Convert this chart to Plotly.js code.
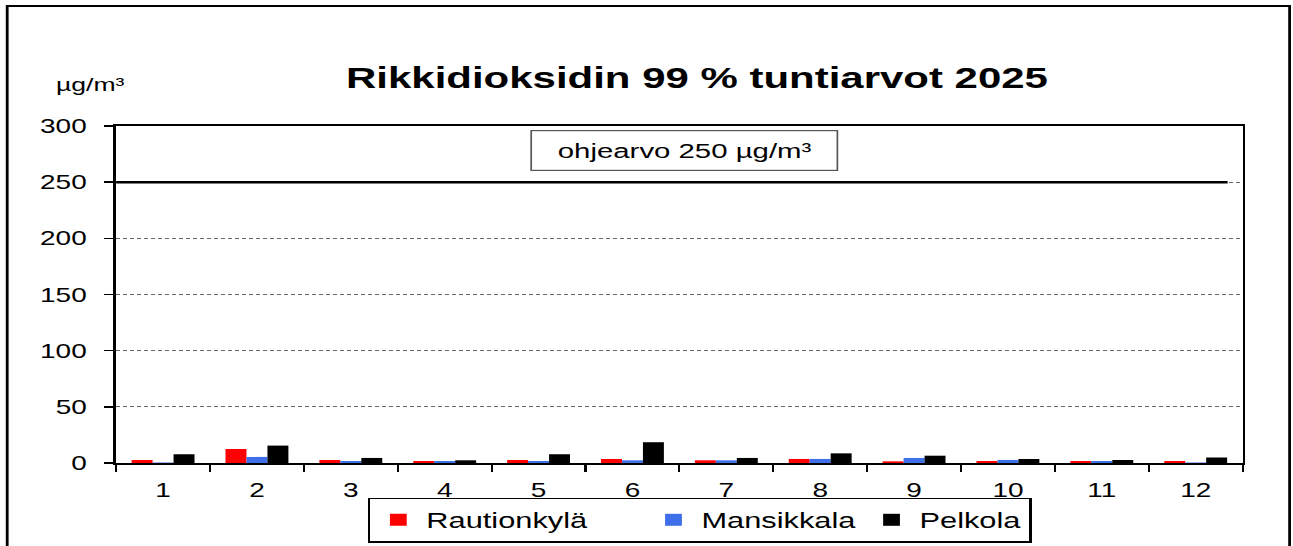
<!DOCTYPE html>
<html>
<head>
<meta charset="utf-8">
<script src="https://cdn.plot.ly/plotly-3.0.1.min.js"></script>
<style>
html,body{margin:0;padding:0;background:#fff;overflow:hidden;}
#chart{width:924px;height:546px;transform:scaleX(1.39935);transform-origin:0 0;}
</style>
</head>
<body>
<div id="chart"></div>
<script>
const months = ["1","2","3","4","5","6","7","8","9","10","11","12"];
const rautionkyla = [2.7, 12.5, 2.7, 1.8, 2.7, 3.6, 2.4, 3.6, 1.5, 1.8, 1.8, 1.8];
const mansikkala = [0.5, 5.4, 1.8, 1.8, 1.8, 2.4, 2.4, 3.6, 4.5, 2.7, 1.8, 0.5];
const pelkola = [7.8, 15.5, 4.5, 2.4, 7.8, 18.5, 4.5, 8.6, 6.5, 3.6, 2.7, 4.8];
const seriesNames = ["Rautionkylä", "Mansikkala", "Pelkola"];
const yTicks = [0, 50, 100, 150, 200, 250, 300];
const guideValue = 250;

// The reference picture is horizontally stretched; the chart is drawn
// at a narrower width and stretched by CSS with factor S.
const S = 1.39935;
const W = 924, H = 546;
const font = "Liberation Sans, Arial, sans-serif";
const colors = ["#ff0000", "#3f6fe8", "#000000"];
const namePad = ["\u00a0\u00a0\u00a0\u00a0\u00a0\u00a0", "", ""];
const data = [rautionkyla, mansikkala, pelkola].map((v, i) => ({
  type: "bar", x: months, y: v, name: seriesNames[i] + namePad[i],
  marker: {color: colors[i], line: {width: 0}}
}));

// reference-pixel geometry of the plot area
const L = 116, R = 1243, T = 126, B = 463;
const px = x => (x - L) / (R - L);
const py = y => (B - y) / (B - T);

const layout = {
  width: W, height: H,
  margin: {l: L / S, r: W - R / S, t: T, b: H - B, autoexpand: false},
  paper_bgcolor: "#fff", plot_bgcolor: "#fff",
  font: {family: font, size: 20, color: "#000"},
  barmode: "group", bargap: 0.33, bargroupgap: 0,
  showlegend: true,
  title: {text: "<b>Rikkidioksidin 99 % tuntiarvot 2025</b>", font: {family: font, size: 30, color: "#000"},
          x: 697 / 1293, xref: "container", xanchor: "center", y: 1 - 78 / 546, yref: "container", yanchor: "middle",
          automargin: false},
  xaxis: {type: "category", range: [-0.5, 11.5], ticks: "outside", tickson: "boundaries", ticklen: 7, tickwidth: 1.5,
          tickcolor: "#000", showline: true, linecolor: "#000", linewidth: 2, mirror: true, showgrid: false,
          tickfont: {family: font, size: 20, color: "#000"}, ticklabelstandoff: 8, fixedrange: true, automargin: false},
  yaxis: {range: [0, 300], tickvals: yTicks, ticks: "outside", ticklen: 7, tickwidth: 1.5, tickcolor: "#000",
          showline: true, linecolor: "#000", linewidth: 2, mirror: true, showgrid: true, gridcolor: "#666",
          griddash: "3px,2px", gridwidth: 1, zeroline: false, tickfont: {family: font, size: 20, color: "#000"},
          ticklabelstandoff: 8, fixedrange: true, automargin: false},
  legend: {orientation: "h", x: px(700), xanchor: "center", y: py(520), yanchor: "middle",
           bordercolor: "#000", borderwidth: 1.5, bgcolor: "#fff", font: {family: font, size: 22, color: "#000"},
           itemwidth: 30, traceorder: "normal"},
  shapes: [
    {type: "line", xref: "paper", yref: "y", x0: 0, x1: px(1228), y0: guideValue, y1: guideValue,
     line: {color: "#000", width: 2.5}},
    {type: "rect", xref: "paper", yref: "paper", x0: px(7), x1: px(1290), y0: py(6), y1: py(600),
     line: {color: "#000", width: 2}, fillcolor: "rgba(0,0,0,0)"}
  ],
  annotations: [
    {text: "ohjearvo 250 µg/m³", xref: "paper", yref: "y", x: px(684), y: (B - 150.5) / ((B - T) / 300), showarrow: false,
     width: 212, height: 33, bordercolor: "#555", borderwidth: 1.2, borderpad: 3, bgcolor: "#fff",
     font: {family: font, size: 21, color: "#000"}},
    {text: "µg/m³", xref: "paper", yref: "paper", x: px(90), y: py(85), showarrow: false,
     xanchor: "center", yanchor: "middle", font: {family: font, size: 19, color: "#000"}}
  ]
};

Plotly.newPlot("chart", data, layout, {displayModeBar: false, staticPlot: true});
</script>
</body>
</html>
